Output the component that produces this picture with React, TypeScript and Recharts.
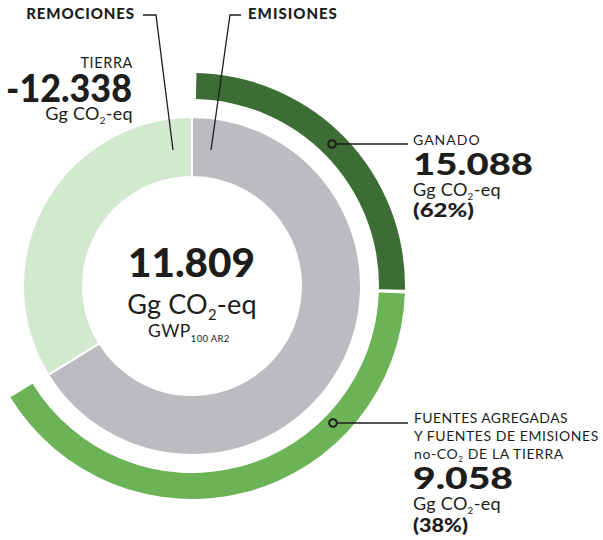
import { PieChart, Pie, Cell } from 'recharts'

// Inner ring: emisiones (15.088 + 9.058) vs remociones de la tierra
const innerNames = ['Emisiones', 'Remociones']
const innerValues = [24.146, 12.338]
const innerColors = ['#bbbcc0', '#d3e9cf']

// Outer ring: arc shares as they are drawn in the graphic (dark arc ~ 90°, light arc ~ 148°)
const outerNames = ['Ganado', 'Fuentes agregadas']
const outerArcShares = [38, 62]
const outerColors = ['#3c6d34', '#6bb356']

// Text shown in the labels
const netTotal = '11.809'
const tierraValue = '-12.338'
const ganadoValue = '15.088'
const ganadoPct = '(62%)'
const fuentesValue = '9.058'
const fuentesPct = '(38%)'
const fuentesLines = ['FUENTES AGREGADAS', 'Y FUENTES DE EMISIONES']

const FONT = 'Lato, "Open Sans", sans-serif'
const INK = '#1d1d1b'

const innerData = innerNames.map((name, i) => ({ name, value: innerValues[i] }))
const outerData = outerNames.map((name, i) => ({ name, value: outerArcShares[i] }))

// "Gg CO2-eq" with a subscript 2
function Unit({ x, y, size, anchor = 'start', spacing = 0.3 }: { x: number; y: number; size: number; anchor?: string; spacing?: number }) {
    return (
        <text x={x} y={y} fontSize={size} fontFamily={FONT} fill={INK} textAnchor={anchor as any} letterSpacing={spacing}>
            Gg CO<tspan fontSize={size * 0.55} dy={size * 0.22}>2</tspan>
            <tspan dy={-size * 0.22}>-eq</tspan>
        </text>
    )
}

// heavy number stretched to the width it has in the graphic
function Big({ x, y, size, width, children, anchor = 'start' }: any) {
    return (
        <text
            x={x}
            y={y}
            fontSize={size}
            fontWeight={900}
            fontFamily={FONT}
            fill={INK}
            textAnchor={anchor}
            textLength={width}
            lengthAdjust="spacingAndGlyphs"
        >
            {children}
        </text>
    )
}

export default function App() {
    return (
        <div style={{ position: 'absolute', left: 0, top: 0, width: 603, height: 540, background: '#fff' }}>
            <PieChart width={603} height={540} margin={{ top: 0, right: 0, bottom: 0, left: 0 }}>
                <Pie
                    data={innerData}
                    dataKey="value"
                    cx={192}
                    cy={286}
                    innerRadius={109}
                    outerRadius={169}
                    startAngle={90}
                    endAngle={-270}
                    stroke="#ffffff"
                    strokeWidth={2}
                    isAnimationActive={false}
                >
                    {innerData.map((d, i) => (
                        <Cell key={d.name} fill={innerColors[i]} />
                    ))}
                </Pie>
                <Pie
                    data={outerData}
                    dataKey="value"
                    cx={192}
                    cy={286}
                    innerRadius={187}
                    outerRadius={213}
                    startAngle={88.8}
                    endAngle={-148.5}
                    paddingAngle={1}
                    stroke="none"
                    isAnimationActive={false}
                >
                    {outerData.map((d, i) => (
                        <Cell key={d.name} fill={outerColors[i]} />
                    ))}
                </Pie>
            </PieChart>

            {/* labels and leader lines */}
            <svg width={603} height={540} style={{ position: 'absolute', left: 0, top: 0 }}>
                <g stroke={INK} strokeWidth={1.3} fill="none">
                    <polyline points="143,15 156,15 173,150" />
                    <polyline points="241,15 230,15 211,150" />
                    <line x1={336} y1={144} x2={408} y2={144} />
                    <line x1={337} y1={423} x2={408} y2={423} />
                </g>
                <circle cx={332} cy={144} r={3.8} fill={outerColors[0]} stroke={INK} strokeWidth={2} />
                <circle cx={333} cy={423} r={3.8} fill={outerColors[1]} stroke={INK} strokeWidth={2} />

                <text x={135} y={19} textAnchor="end" fontSize={15} fontWeight={900} fontFamily={FONT} fill={INK} letterSpacing={0.9}>REMOCIONES</text>
                <text x={248} y={19} fontSize={15} fontWeight={900} fontFamily={FONT} fill={INK} letterSpacing={1}>EMISIONES</text>

                <text x={133} y={68} textAnchor="end" fontSize={14.5} fontFamily={FONT} fill={INK} letterSpacing={0.6}>TIERRA</text>
                <Big x={132} y={102} size={37} width={126} anchor="end">{tierraValue}</Big>
                <Unit x={133} y={120} size={18} anchor="end" />

                <Big x={128} y={277} size={39} width={127}>{netTotal}</Big>
                <Unit x={192} y={314} size={27} anchor="middle" spacing={0.2} />
                <text x={148} y={337} fontSize={17.5} fontFamily={FONT} fill={INK} letterSpacing={0.5}>
                    GWP<tspan fontSize={9.5} dy={5} letterSpacing={0.3}>100 AR2</tspan>
                </text>

                <text x={413} y={145} fontSize={14} fontFamily={FONT} fill={INK} letterSpacing={1}>GANADO</text>
                <Big x={413} y={175} size={31} width={120}>{ganadoValue}</Big>
                <Unit x={413} y={196} size={18} />
                <Big x={413} y={217} size={19} width={61}>{ganadoPct}</Big>

                <text x={414} y={423} fontSize={14} fontFamily={FONT} fill={INK} letterSpacing={0.4}>{fuentesLines[0]}</text>
                <text x={414} y={441} fontSize={14} fontFamily={FONT} fill={INK} letterSpacing={0.55}>{fuentesLines[1]}</text>
                <text x={414} y={459} fontSize={14} fontFamily={FONT} fill={INK} letterSpacing={0.6}>
                    no-CO<tspan fontSize={8} dy={3}>2</tspan><tspan dy={-3}> DE LA TIERRA</tspan>
                </text>
                <Big x={413} y={489} size={31} width={100}>{fuentesValue}</Big>
                <Unit x={413} y={510} size={18} />
                <Big x={413} y={532} size={19} width={55}>{fuentesPct}</Big>
            </svg>
        </div>
    )
}
